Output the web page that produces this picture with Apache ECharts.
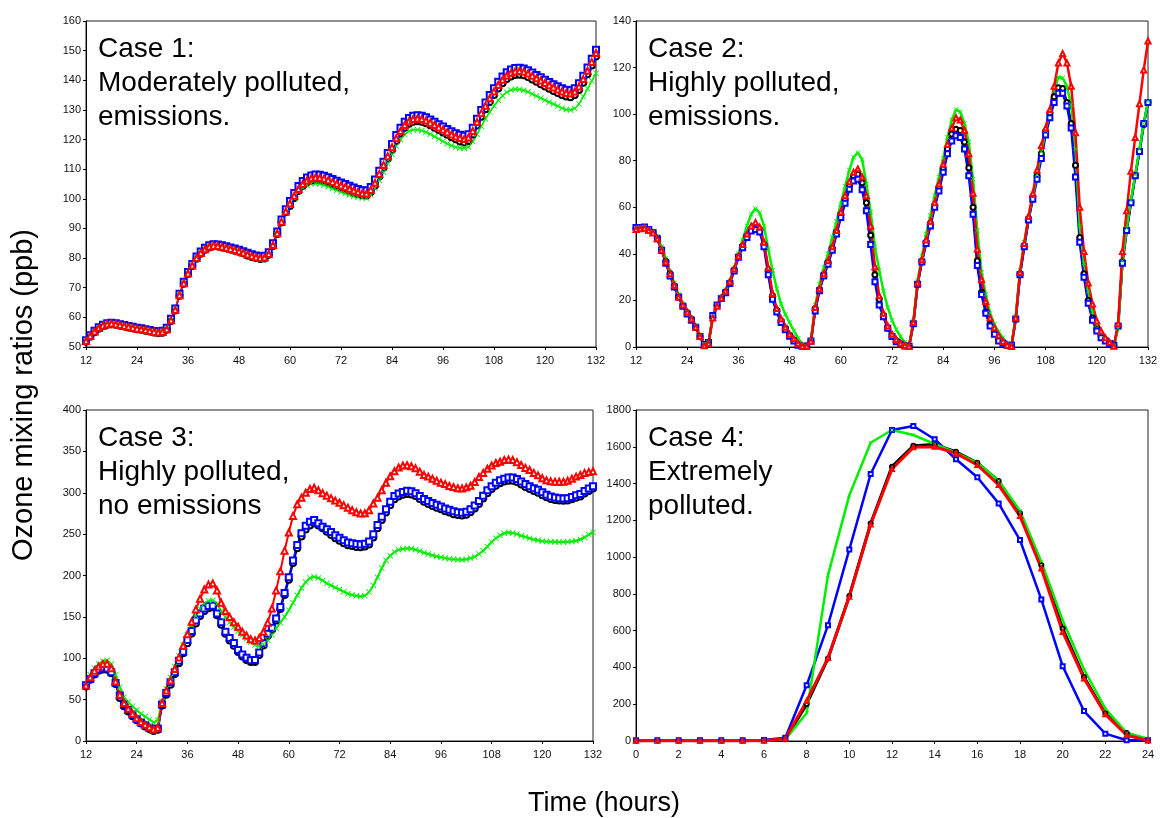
<!DOCTYPE html>
<html>
<head>
<meta charset="utf-8">
<script src="https://cdn.jsdelivr.net/npm/echarts@6/dist/echarts.min.js"></script>
<style>
  html, body { margin: 0; padding: 0; background: #fff; }
  #chart { width: 1162px; height: 818px; }
</style>
</head>
<body>
<div id="chart"></div>
<script>
// hours 12..132 for cases 1-3, hourly output
var hoursLong = [];
for (var h = 12; h <= 132; h++) { hoursLong.push(h); }
var hoursDay = [0, 1, 2, 3, 4, 5, 6, 7, 8, 9, 10, 11, 12, 13, 14, 15, 16, 17, 18, 19, 20, 21, 22, 23, 24];

// Case 1: moderately polluted, emissions
var c1Black = [
    51.8, 53.5, 55, 56.2, 57, 57.5, 57.7, 57.5, 57.2, 56.9,
    56.6, 56.3, 56, 55.8, 55.5, 55.2, 54.9, 54.7, 54.8, 55.8,
    58.8, 62.3, 67.3, 71.3, 74.6, 77.3, 79.8, 81.5, 82.8, 83.6,
    84, 83.9, 83.6, 83.3, 82.9, 82.5, 82.1, 81.6, 80.9, 80.4,
    80, 79.7, 79.9, 81.1, 84.1, 88.1, 92, 95.5, 97.6, 100.3,
    102.6, 104.3, 105.5, 106.2, 106.5, 106.4, 106.1, 105.6, 105, 104.4,
    103.8, 103.3, 102.7, 102.1, 101.6, 101.2, 101.1, 102.3, 104.5, 107.5,
    110.5, 113.5, 116.5, 119.5, 122, 124, 125.3, 126, 126.2, 126,
    125.5, 124.8, 124, 123.2, 122.4, 121.6, 120.8, 120.1, 119.3, 119,
    119.5, 121.7, 124.7, 127.7, 130.2, 132.7, 135, 137.2, 139, 140.4,
    141.3, 141.8, 141.9, 141.7, 141.1, 140.3, 139.5, 138.7, 137.9, 137.1,
    136.4, 135.7, 135, 134.5, 134.3, 135, 136.7, 139.2, 142, 145,
    148
];
var c1Red = [
    52, 53.7, 55.2, 56.4, 57.2, 57.7, 57.9, 57.7, 57.4, 57.1,
    56.8, 56.5, 56.2, 56, 55.7, 55.4, 55.1, 54.9, 55.1, 56,
    59, 62.5, 67.5, 71.5, 74.8, 77.5, 80, 81.7, 83, 83.8,
    84.2, 84.1, 83.8, 83.5, 83.1, 82.7, 82.3, 81.8, 81.2, 80.7,
    80.3, 80, 80.2, 81.4, 84.4, 88.4, 92.3, 95.7, 98.4, 101,
    103.3, 105, 106.2, 106.9, 107.2, 107.1, 106.8, 106.3, 105.7, 105.1,
    104.5, 104, 103.4, 102.8, 102.3, 101.9, 101.8, 103, 105.4, 108.4,
    111.4, 114.4, 117.4, 120.4, 122.9, 124.9, 126.2, 126.9, 127.1, 126.9,
    126.4, 125.7, 124.9, 124.1, 123.3, 122.5, 121.7, 121, 120.5, 120.2,
    120.7, 122.9, 125.9, 128.9, 131.4, 133.9, 136.2, 138.4, 140.2, 141.6,
    142.5, 143, 143.1, 142.9, 142.3, 141.5, 140.7, 139.9, 139.1, 138.3,
    137.6, 136.9, 136.2, 135.7, 135.5, 136.2, 137.9, 140.4, 143.2, 146.2,
    149.2
];
var c1Blue = [
    52.3, 54, 55.5, 56.7, 57.5, 58, 58.2, 58, 57.7, 57.4,
    57.1, 56.8, 56.5, 56.3, 56, 55.7, 55.4, 55.2, 55.5, 56.5,
    59.5, 63, 68, 72, 75.3, 78, 80.5, 82.2, 83.5, 84.3,
    84.7, 84.6, 84.3, 84, 83.6, 83.2, 82.8, 82.3, 81.8, 81.3,
    80.9, 80.6, 80.8, 82, 85, 89, 93, 96.5, 99.3, 102,
    104.3, 106, 107.2, 107.9, 108.2, 108.1, 107.8, 107.3, 106.7, 106.1,
    105.5, 105, 104.4, 103.8, 103.3, 102.9, 102.8, 104, 106.5, 109.5,
    112.5, 115.5, 118.5, 121.5, 124, 126, 127.3, 128, 128.2, 128,
    127.5, 126.8, 126, 125.2, 124.4, 123.6, 122.8, 122.1, 121.6, 121.3,
    121.8, 124, 127, 130, 132.5, 135, 137.3, 139.5, 141.3, 142.7,
    143.6, 144.1, 144.2, 144, 143.4, 142.6, 141.8, 141, 140.2, 139.4,
    138.7, 138, 137.3, 136.8, 136.6, 137.3, 139, 141.5, 144.3, 147.3,
    150.3
];
var c1Green = [
    52, 53.7, 55.2, 56.4, 57.2, 57.7, 57.9, 57.7, 57.4, 57.1,
    56.8, 56.5, 56.2, 56, 55.7, 55.4, 55.1, 54.9, 55.2, 56.2,
    59.1, 62.6, 67.6, 71.6, 74.9, 77.6, 80.1, 81.8, 83.1, 83.9,
    84, 83.8, 83.5, 83.1, 82.7, 82.3, 81.9, 81.4, 80.9, 80.4,
    80, 79.6, 79.6, 80.8, 83.8, 87.8, 91.8, 95.2, 97.8, 100.2,
    102.3, 103.7, 104.6, 105.1, 105.2, 105, 104.6, 104.1, 103.5, 102.9,
    102.3, 101.8, 101.3, 100.8, 100.5, 100.3, 100.3, 101.3, 103.5, 106.2,
    109, 112, 115, 117.8, 120, 121.7, 122.8, 123.3, 123.3, 123,
    122.5, 121.8, 121, 120.2, 119.4, 118.6, 117.9, 117.4, 117.1, 117.1,
    117.5, 119.3, 121.8, 124.5, 127, 129.3, 131.3, 133.2, 134.8, 136,
    136.7, 137, 136.9, 136.6, 136.1, 135.4, 134.7, 134, 133.3, 132.6,
    132, 131.3, 130.6, 130.1, 130, 130.5, 132, 134.5, 137.2, 139.8,
    142.4
];

// Case 2: highly polluted, emissions
var c2Black = [
    51, 51.2, 51.3, 50.3, 49.2, 46.8, 41.8, 36.8, 31.5, 26.2,
    21.5, 17.7, 14.7, 12, 8.5, 4.5, 1, 1.8, 12.8, 17.8,
    21, 23.6, 27.6, 33, 38.8, 43.3, 47.7, 50.8, 52, 50.5,
    44, 33, 22, 15.8, 11.2, 8, 5, 3, 1.1, 0.2,
    0.3, 2.5, 16.5, 24.5, 31, 36.3, 42.3, 49.3, 57, 63.5,
    69.5, 73.5, 74.2, 70.5, 62, 48, 31, 20.5, 13.5, 8.3,
    4.8, 2.7, 1.4, 0.5, 0.2, 10, 27, 36.8, 45, 53,
    60.8, 68.5, 76.5, 85, 91.5, 93.5, 93, 88, 77, 60,
    37, 23.5, 15, 9.7, 6, 3.5, 1.8, 0.7, 0.4, 12,
    31.5, 43.5, 55, 64.5, 73.5, 83, 92.5, 100.5, 107.5, 111.3,
    111, 105, 96, 78, 47, 31.5, 20, 12.5, 7.8, 4.8,
    3, 1.6, 0.5, 9, 36.5, 50, 62, 73.5, 84, 95.5,
    105
];
var c2Red = [
    50.5, 50.8, 51, 50, 49, 46.5, 41.5, 36.5, 31.5, 26.5,
    21.5, 18, 15, 12, 8.5, 4.5, 0.5, 1.5, 12.5, 17.5,
    21, 24, 28, 33.5, 39, 44, 48.5, 52, 53.5, 51.5,
    45, 34, 23, 16.5, 12, 8.5, 5.5, 3.5, 1.5, 0.3,
    0.3, 2.5, 17, 25, 31.5, 37, 43, 50, 58, 65,
    71, 75, 76.5, 73, 65, 52, 34.5, 22, 14.5, 9,
    5.5, 3.2, 1.6, 0.6, 0.2, 10.5, 27.5, 37.5, 46, 54,
    62, 70, 78.5, 87, 94, 98.5, 97.5, 93, 83, 66,
    42, 29, 19.5, 12.5, 8.3, 5, 2.4, 0.8, 0.2, 12.5,
    32, 44.5, 56, 66, 76, 86.5, 94, 102, 112, 122,
    126, 122, 112, 92, 60, 41, 27.5, 18.5, 11.2, 6.9,
    4, 2, 0.3, 10, 41, 58.5, 75.5, 90, 104.5, 119,
    131.4
];
var c2Blue = [
    51.3, 51.3, 51.5, 50.5, 49.2, 46.5, 41.5, 36, 30.5, 25.8,
    21.5, 17.5, 14.2, 11.5, 8.5, 4.5, 1.2, 1.9, 13.5, 18,
    20.8, 23.3, 27.3, 32.6, 38.5, 42.6, 47, 49.8, 50.5, 49.4,
    43, 31, 20.5, 15, 10.5, 7.4, 4.6, 2.6, 0.8, 0.2,
    0.4, 2.6, 15.5, 24.2, 30.5, 35.5, 41.5, 48.5, 55.6, 61.7,
    67.7, 71.3, 72, 67.5, 58.5, 44, 28, 18, 13, 8,
    4.5, 2.3, 1.2, 0.4, 0.3, 10, 27, 36.5, 44.5, 52,
    60, 67, 75, 83, 88.5, 90.7, 90, 85, 73.5, 57,
    35, 22.5, 14.5, 9, 5.5, 2.6, 1.6, 0.7, 0.7, 12,
    31, 43, 54.5, 63.5, 72, 81, 91, 98.5, 105, 109,
    109, 103.5, 94, 73, 45, 30, 18.8, 11.5, 6.9, 4,
    2.6, 1.5, 0.7, 9, 36, 50, 62, 73.5, 84, 96,
    105
];
var c2Green = [
    51, 51.3, 51.3, 50.5, 49.5, 47.5, 43, 38, 32.5, 27.5,
    22.5, 18.5, 15, 12.5, 9, 4.5, 1.3, 2, 13, 18,
    21.5, 24.5, 28.5, 34, 40, 46, 52, 57, 59.5, 57.5,
    52, 42, 33, 25, 18.5, 14, 10.5, 7, 3.8, 1.2,
    0.3, 2.8, 18, 27, 34, 40, 47, 54, 61.5, 69,
    76, 81.5, 83.5, 80.5, 70, 58, 43, 33, 24, 17,
    11.5, 7.5, 4.5, 2, 0.3, 11, 28.5, 39, 48.5, 56.5,
    65, 73, 81, 90, 97.5, 102, 101, 96, 88, 72,
    50, 32, 22.5, 14.5, 9.7, 6.4, 4, 1.5, 0.5, 13,
    33, 45, 56, 65, 74, 84, 93, 101, 110, 116,
    115.5, 112, 104, 85, 52, 36, 24, 15, 9.5, 6,
    3.5, 1.8, 0.4, 8, 37, 51, 63, 74, 85, 96,
    105.5
];

// Case 3: highly polluted, no emissions
var c3Black = [
    66, 74, 80.5, 85, 86.5, 86, 82, 69, 52, 42,
    35.5, 30, 25, 21, 17.5, 14.5, 12, 13.5, 43, 56,
    68, 81, 94, 106, 118, 130, 142, 151, 157, 160.5,
    161.5, 152, 140.5, 129.5, 121.5, 115, 107.5, 102, 98, 95.5,
    95.5, 104, 115.5, 127, 134, 145.5, 159.5, 176.5, 195, 215,
    233, 247, 255.5, 260.5, 263, 260.5, 257, 253, 249, 245,
    242, 239, 236.5, 235.5, 234.5, 234, 235, 237.5, 246, 257,
    267, 276, 285, 292, 295.5, 297.5, 298.5, 298, 296, 292.5,
    289, 286.5, 284, 282, 280, 277.5, 276, 274, 273, 272.5,
    273.5, 276.5, 281, 286.5, 293, 299.5, 304.5, 308.5, 311.5, 313.5,
    314.5, 314.5, 313, 310, 307, 304.5, 302, 300, 297, 294.5,
    292.5, 291.3, 290.5, 290.2, 290.5, 292, 294, 295.5, 299, 302,
    305
];
var c3Red = [
    67, 77, 85, 90, 93, 93.5, 88, 72, 56, 46,
    39, 33, 27.5, 23, 19.5, 16.5, 14, 16, 46, 61,
    73, 87, 101, 115, 129, 144, 159, 172, 183, 189,
    190.5, 182, 167, 157, 150, 143.5, 138, 132, 127.5, 123,
    121.5, 124.5, 132, 143, 160, 182, 205, 230, 252, 272,
    286, 294, 300, 304.5, 306, 303, 299.5, 296.5, 293.5, 290.5,
    288, 285, 282, 279, 276.5, 275, 275.3, 279, 287, 294,
    303, 312, 320, 326, 330.5, 333, 333.3, 332, 329.5, 325.5,
    321.5, 319.5, 317, 314.5, 312, 310.5, 308.3, 306.8, 305.5, 305.2,
    306.5, 308.5, 313, 319, 324, 329, 333, 336, 337.5, 339.5,
    340.3, 339.5, 337, 333.5, 330, 327.5, 324, 321, 317.5, 315,
    313.8, 313.3, 313.3, 313.3, 314.5, 317, 319.5, 321.5, 324, 325,
    326
];
var c3Blue = [
    67.4, 75, 82, 86.5, 88.5, 87.5, 83, 70, 55, 44,
    37.5, 32, 26.5, 22.5, 19, 16, 13.5, 15, 44, 58,
    71, 83, 97, 108, 122, 133, 145.5, 154, 160, 163,
    163.5, 154, 143.5, 132, 124.5, 118.5, 110, 104.5, 100.5, 97.6,
    98, 107, 118, 129.5, 137, 148, 162, 179, 198, 218,
    237, 251, 260, 265, 267, 263, 259, 256, 252.5, 248.5,
    245.5, 242.5, 240, 239, 238, 237.5, 238.5, 241, 250, 261,
    271, 280, 289, 296, 299, 301, 302.3, 301.7, 299.5, 296,
    292.5, 290, 287.5, 285.5, 283.5, 281, 279.5, 277.5, 276.5, 275.8,
    277, 280, 284.5, 290, 296.5, 303, 308, 312, 315, 317,
    318.3, 318.3, 316.5, 313.5, 310.5, 308, 305.5, 303.5, 300.5, 297.5,
    295.5, 294.3, 293.5, 293.2, 293.5, 295, 297, 298.5, 302, 305,
    308
];
var c3Green = [
    67, 80, 88, 93, 96.5, 97.5, 93, 80, 65, 53,
    47, 42, 37.5, 33, 29.5, 26, 22.5, 25, 48, 63,
    77, 90, 103, 116, 128, 140, 151, 160, 166, 169.5,
    170, 166, 157, 150, 143.5, 137.5, 132.5, 128, 123.5, 119.5,
    116, 114.5, 117, 122, 128.5, 136, 143, 150, 158, 167,
    176, 185, 192, 197, 198.5, 197, 194, 190.5, 188, 185.5,
    183, 180.5, 178, 176.5, 175.5, 174.5, 175.5, 180, 188, 198,
    209, 218.5, 224, 228.5, 231, 232, 232.7, 232.5, 231, 229.5,
    227.5, 226, 224.5, 223, 222, 221, 220, 219.5, 219.2, 219,
    219.5, 221, 222.5, 226, 230, 235, 240.5, 245, 248.5, 251,
    252, 251.5, 250, 248, 246.5, 245, 243.5, 242.5, 241.5, 241,
    240.7, 240.7, 240.5, 240.5, 240.7, 241, 242, 243.6, 246, 249.5,
    252
];

// Case 4: extremely polluted (one day)
var c4Black = [2, 2, 2, 2, 2, 2, 3, 10, 200, 449, 789, 1183, 1492, 1605, 1612, 1573, 1513, 1414, 1238, 957, 612, 348, 149, 44, 4];
var c4Red = [1, 1, 1, 1, 1, 1, 2, 12, 218, 452, 785, 1178, 1479, 1597, 1600, 1564, 1501, 1392, 1223, 938, 593, 340, 145, 31, 3];
var c4Blue = [4, 4, 4, 4, 4, 4, 5, 18, 303, 630, 1042, 1452, 1691, 1713, 1641, 1532, 1434, 1292, 1093, 770, 407, 163, 40, 4, 4];
var c4Green = [2, 2, 2, 2, 2, 2, 3, 8, 152, 902, 1337, 1622, 1691, 1664, 1615, 1568, 1513, 1415, 1252, 975, 657, 389, 176, 44, 13];

var caseTitles = [
    'Case 1:\nModerately polluted,\nemissions.',
    'Case 2:\nHighly polluted,\nemissions.',
    'Case 3:\nHighly polluted,\nno emissions',
    'Case 4:\nExtremely\npolluted.'
];

var FONT = '"Liberation Sans", Arial, Helvetica, sans-serif';
var xMark = 'path://M0,1L1,0L5,4L9,0L10,1L6,5L10,9L9,10L5,6L1,10L0,9L4,5Z';

var grids = [
    { left: 86, top: 21, width: 510, height: 326 },
    { left: 636, top: 21, width: 512, height: 326 },
    { left: 86, top: 410, width: 507, height: 331 },
    { left: 636, top: 410, width: 512, height: 331 }
];
var yRanges = [[50, 160, 10], [0, 140, 20], [0, 400, 50], [0, 1800, 200]];
var xRanges = [[12, 132, 12], [12, 132, 12], [12, 132, 12], [0, 24, 2]];

function zip(xs, ys) {
    var out = [];
    for (var i = 0; i < ys.length; i++) {
        out.push([xs[i], ys[i]]);
    }
    return out;
}

function makeSeries(idx, name, xs, ys, color, symbol, size, width) {
    var s = {
        name: name,
        type: 'line',
        xAxisIndex: idx,
        yAxisIndex: idx,
        data: zip(xs, ys),
        symbol: symbol,
        symbolSize: size,
        showSymbol: true,
        lineStyle: { color: color, width: width },
        itemStyle: { color: color, borderColor: color, borderWidth: 1 },
        animation: false,
        z: 2
    };
    if (symbol === xMark) {
        s.itemStyle = { color: color, borderWidth: 0 };
    }
    return s;
}

var series = [];
var panels = [
    { xs: hoursLong, k: c1Black, r: c1Red, b: c1Blue, g: c1Green, size: 6, lw: 1.5 },
    { xs: hoursLong, k: c2Black, r: c2Red, b: c2Blue, g: c2Green, size: 5, lw: 2.5 },
    { xs: hoursLong, k: c3Black, r: c3Red, b: c3Blue, g: c3Green, size: 6, lw: 2 },
    { xs: hoursDay, k: c4Black, r: c4Red, b: c4Blue, g: c4Green, size: 4, lw: 2.5 }
];
panels.forEach(function (p, i) {
    series.push(makeSeries(i, 'black', p.xs, p.k, '#000000', 'emptyCircle', p.size, p.lw + (i === 3 ? 0.5 : 0)));
    series.push(makeSeries(i, 'blue', p.xs, p.b, '#0000ff', 'emptyRect', p.size, p.lw));
    series.push(makeSeries(i, 'green', p.xs, p.g, '#00ee00', xMark, p.size, p.lw));
    series.push(makeSeries(i, 'red', p.xs, p.r, '#ff0000', 'emptyTriangle', p.size, p.lw + (i === 3 ? 0.5 : 0)));
});

function plainNum(v) { return String(v); }

var axisCommon = {
    axisLine: { show: true, onZero: false, lineStyle: { color: '#000', width: 1 } },
    axisTick: { show: true, inside: false, length: 3, lineStyle: { color: '#000' } },
    splitLine: { show: false },
    axisLabel: { fontSize: 11, color: '#111', fontFamily: FONT, formatter: plainNum }
};

var xAxes = [], yAxes = [], gridOpts = [], graphics = [];
grids.forEach(function (g, i) {
    gridOpts.push({
        left: g.left, top: g.top, width: g.width, height: g.height,
        containLabel: false,
        outerBoundsMode: 'none',
        show: true, borderColor: '#222', borderWidth: 1, backgroundColor: 'transparent'
    });
    xAxes.push(echarts.util.merge({
        type: 'value', gridIndex: i,
        min: xRanges[i][0], max: xRanges[i][1], interval: xRanges[i][2],
        axisLabel: { margin: 8 }
    }, axisCommon));
    yAxes.push(echarts.util.merge({
        type: 'value', gridIndex: i,
        min: yRanges[i][0], max: yRanges[i][1], interval: yRanges[i][2],
        axisLabel: { margin: 5 }
    }, axisCommon));
    graphics.push({
        type: 'text',
        left: g.left + 12,
        top: g.top + 11,
        z: 10,
        style: {
            text: caseTitles[i],
            fontSize: 28,
            lineHeight: 34,
            fontFamily: FONT,
            fill: '#000'
        }
    });
});

graphics.push({
    type: 'text',
    x: 24, y: 395,
    rotation: Math.PI / 2,
    style: {
        text: 'Ozone mixing ratios (ppb)',
        fontSize: 29, fontFamily: FONT, fill: '#000',
        textAlign: 'center', textVerticalAlign: 'middle'
    }
});
graphics.push({
    type: 'text',
    x: 604, y: 804,
    style: {
        text: 'Time (hours)',
        fontSize: 27, fontFamily: FONT, fill: '#000',
        textAlign: 'center', textVerticalAlign: 'middle'
    }
});

var chart = echarts.init(document.getElementById('chart'), null, { renderer: 'canvas' });
chart.setOption({
    animation: false,
    backgroundColor: '#fff',
    grid: gridOpts,
    xAxis: xAxes,
    yAxis: yAxes,
    series: series,
    graphic: graphics
});
</script>
</body>
</html>
